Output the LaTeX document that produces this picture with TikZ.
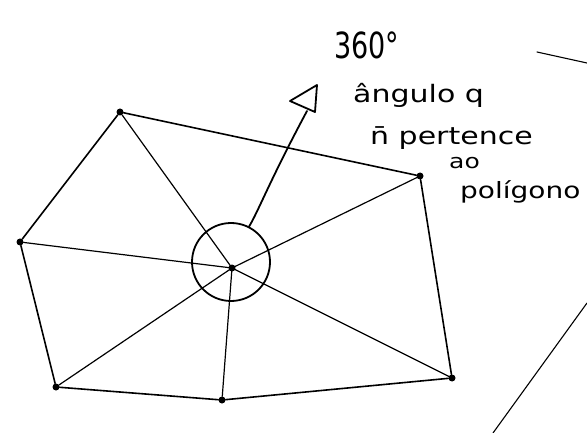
\documentclass[tikz,border=0pt]{standalone}
\usepackage{fontspec}
\setmainfont{DejaVu Sans}
\begin{document}
\begin{tikzpicture}[x=1pt,y=-1pt,
  pen/.style={line width=1.6pt,line cap=round,line join=round},
  thin pen/.style={line width=1.1pt,line cap=round},
  vdot/.style={circle,fill=black,inner sep=0pt,minimum size=7pt},
  ring/.style={circle,draw,line width=1.8pt,minimum size=78pt,inner sep=0pt},
  note/.style={font=\fontsize{30}{32}\selectfont,inner sep=0pt,anchor=west,yscale=0.8}]
\useasboundingbox (0,0) rectangle (587,433);
% vertices
\node[vdot] (A) at (120,112) {};
\node[vdot] (B) at (420,176) {};
\node[vdot] (C) at (452,378) {};
\node[vdot] (D) at (222,400) {};
\node[vdot] (E) at (56,387) {};
\node[vdot] (F) at (20,242) {};
\node[vdot] (O) at (232,268) {};
\node[ring] (R) at (231,262) {};
% polygon edges
\draw[pen] (A) -- (B) -- (C) -- (D) -- (E) -- (F) -- (A);
% spokes
\foreach \v in {A,B,C,D,E,F} \draw[pen,line width=1.2pt] (O.center) -- (\v);
% arrow with hand-drawn triangle
\coordinate (t1) at (290,101);
\coordinate (t2) at (317,85);
\coordinate (t3) at (315,112);
\coordinate (tb) at (307,111);
\draw[pen,line width=1.8pt] (t1) -- (t2) -- (t3) -- cycle;
\draw[pen,line width=1.8pt] (R.63) .. controls (258,212) and (270,180) .. (tb);
% texts
\node[note,font=\fontsize{36}{38}\selectfont,xscale=0.75,yscale=1.25] (n360) at (334,45) {360°};
\node[note] (n1) at (353,95) {ângulo q};
\node[note] (n2) at (370,138) {\=n pertence};
\node[note,font=\fontsize{25}{27}\selectfont] (n3) at (449,163) {ao};
\node[note,font=\fontsize{28}{30}\selectfont] (n4) at (460,192) {polígono};
% stray strokes
\coordinate (s1) at (537,52);
\coordinate (s2) at (587,63);
\draw[thin pen] (s1) -- (s2);
\coordinate (s3) at (587,303);
\coordinate (s4) at (493,433);
\draw[thin pen] (s3) -- (s4);
\end{tikzpicture}
\end{document}
